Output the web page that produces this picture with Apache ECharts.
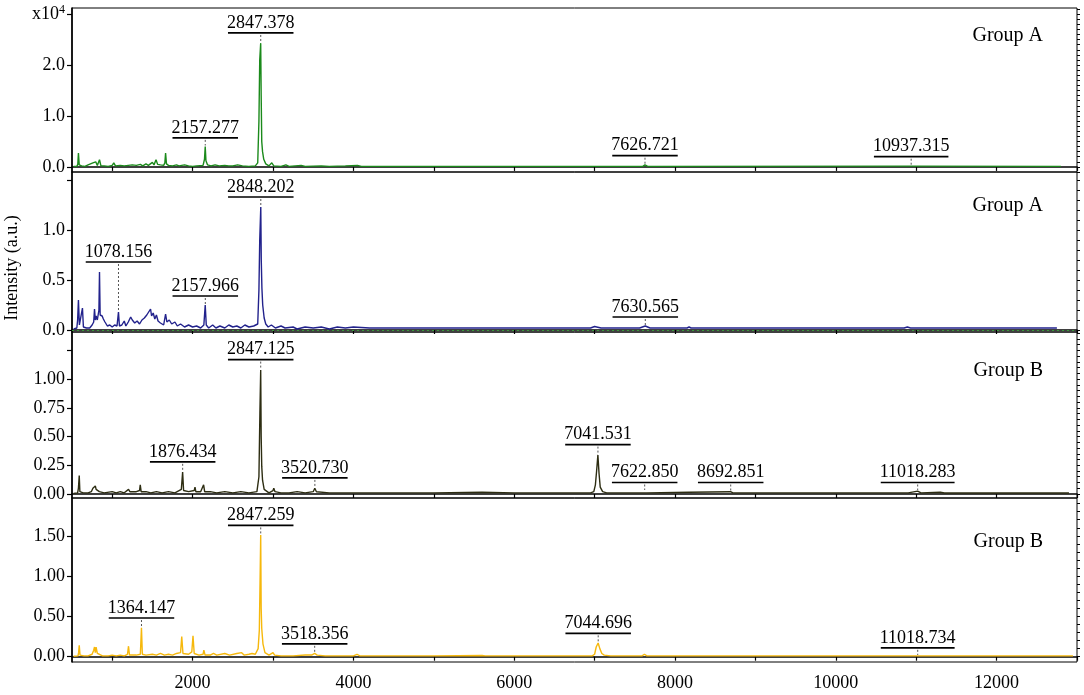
<!DOCTYPE html>
<html>
<head>
<meta charset="utf-8">
<title>MALDI-TOF spectra</title>
<script src="https://cdn.jsdelivr.net/npm/echarts@6/dist/echarts.min.js"></script>
<style>
  html, body { margin: 0; padding: 0; background: #fff; }
  #chart { width: 1084px; height: 695px; }
</style>
</head>
<body>
<div id="chart"></div>
<script>
// spectra, [m/z, intensity] (panel 1 in x10^4)
const specA1 = [[520,0.01],[560,0.01],[572,0.05],[580,0.27],[590,0.04],[620,0.02],[660,0.01],[700,0.04],[720,0.02],[760,0.08],[780,0.05],[795,0.1],[815,0.03],[842,0.14],[860,0.02],[900,0.02],[950,0.01],[1000,0.03],[1020,0.08],[1040,0.02],[1100,0.03],[1150,0.02],[1200,0.03],[1250,0.04],[1300,0.03],[1350,0.05],[1380,0.02],[1420,0.06],[1450,0.03],[1500,0.09],[1520,0.04],[1545,0.14],[1565,0.05],[1600,0.04],[1640,0.03],[1655,0.08],[1664,0.27],[1675,0.06],[1700,0.03],[1750,0.02],[1800,0.04],[1830,0.02],[1900,0.04],[1950,0.02],[2000,0.01],[2050,0.02],[2130,0.03],[2148,0.15],[2157,0.40],[2166,0.12],[2185,0.04],[2230,0.02],[2280,0.04],[2330,0.02],[2400,0.03],[2450,0.02],[2500,0.02],[2560,0.04],[2620,0.02],[2700,0.01],[2780,0.02],[2810,0.08],[2825,0.9],[2835,2.1],[2847,2.43],[2853,1.4],[2860,0.5],[2870,0.3],[2885,0.15],[2910,0.06],[2950,0.02],[2985,0.08],[3010,0.02],[3100,0.01],[3160,0.04],[3200,0.01],[3350,0.03],[3400,0.01],[3600,0.02],[3700,0.01],[3900,0.02],[4050,0.03],[4100,0.01],[5000,0.01],[5500,0.01],[6980,0.01],[7000,0.025],[7030,0.01],[7600,0.01],[7626,0.04],[7660,0.01],[10937,0.015],[12800,0.01]];

const specA2 = [[520,0.01],[560,0.02],[570,0.1],[580,0.30],[592,0.05],[615,0.04],[630,0.22],[642,0.03],[680,0.02],[720,0.02],[750,0.05],[770,0.08],[780,0.21],[790,0.1],[800,0.14],[815,0.1],[825,0.12],[835,0.2],[842,0.58],[850,0.15],[860,0.13],[875,0.14],[890,0.11],[910,0.08],[940,0.04],[970,0.05],[1000,0.03],[1030,0.05],[1060,0.04],[1078,0.18],[1090,0.04],[1120,0.05],[1150,0.09],[1170,0.04],[1200,0.08],[1230,0.13],[1250,0.1],[1280,0.07],[1310,0.09],[1340,0.06],[1370,0.1],[1400,0.12],[1430,0.15],[1450,0.13],[1477,0.21],[1490,0.14],[1510,0.17],[1530,0.11],[1550,0.15],[1570,0.09],[1600,0.07],[1640,0.05],[1664,0.16],[1680,0.08],[1710,0.1],[1740,0.06],[1780,0.08],[1810,0.04],[1850,0.06],[1900,0.03],[1950,0.05],[2000,0.03],[2050,0.04],[2100,0.02],[2140,0.05],[2157,0.25],[2170,0.05],[2200,0.02],[2250,0.05],[2290,0.02],[2340,0.04],[2400,0.02],[2450,0.05],[2500,0.03],[2550,0.04],[2600,0.02],[2650,0.05],[2700,0.03],[2760,0.04],[2810,0.06],[2825,0.4],[2835,0.9],[2848,1.23],[2854,0.7],[2862,0.42],[2872,0.25],[2890,0.12],[2910,0.06],[2940,0.03],[2980,0.05],[3030,0.02],[3100,0.04],[3150,0.02],[3250,0.03],[3300,0.01],[3400,0.03],[3500,0.02],[3600,0.03],[3700,0.01],[3800,0.03],[3900,0.02],[4000,0.03],[4200,0.02],[4400,0.02],[4700,0.02],[5000,0.02],[5500,0.02],[6000,0.02],[6500,0.02],[6950,0.02],[7000,0.035],[7080,0.02],[7560,0.02],[7630,0.04],[7690,0.02],[8150,0.02],[8175,0.03],[8200,0.02],[9000,0.02],[10000,0.02],[10850,0.02],[10890,0.03],[10930,0.02],[12000,0.02],[12750,0.02]];

const specB1 = [[520,0.005],[570,0.01],[580,0.05],[590,0.16],[598,0.02],[640,0.01],[700,0.01],[740,0.02],[760,0.05],[775,0.06],[790,0.07],[800,0.04],[815,0.05],[840,0.02],[900,0.01],[1000,0.02],[1050,0.01],[1100,0.02],[1150,0.01],[1203,0.04],[1220,0.02],[1300,0.02],[1340,0.03],[1349,0.08],[1360,0.02],[1420,0.02],[1480,0.01],[1550,0.02],[1620,0.01],[1700,0.02],[1780,0.01],[1860,0.04],[1876,0.19],[1888,0.03],[1950,0.02],[2020,0.03],[2030,0.06],[2040,0.02],[2100,0.02],[2137,0.08],[2150,0.02],[2220,0.02],[2300,0.01],[2400,0.02],[2500,0.01],[2600,0.02],[2700,0.01],[2800,0.02],[2825,0.15],[2837,0.7],[2847,1.08],[2853,0.5],[2860,0.24],[2870,0.12],[2890,0.04],[2950,0.01],[3000,0.03],[3010,0.05],[3025,0.02],[3100,0.01],[3200,0.01],[3300,0.02],[3400,0.01],[3500,0.02],[3520,0.05],[3540,0.02],[3700,0.01],[3900,0.01],[4100,0.01],[4500,0.01],[5000,0.01],[5600,0.015],[6000,0.01],[6500,0.01],[6950,0.01],[6990,0.02],[7010,0.08],[7025,0.2],[7041,0.34],[7055,0.18],[7070,0.06],[7100,0.02],[7150,0.01],[7600,0.01],[7622,0.025],[7650,0.01],[8175,0.015],[8692,0.02],[8720,0.01],[10900,0.01],[11018,0.025],[11060,0.01],[11300,0.015],[11350,0.008],[12900,0.008]];

const specB2 = [[520,0.005],[575,0.01],[582,0.05],[590,0.14],[600,0.02],[650,0.01],[700,0.01],[750,0.03],[770,0.08],[780,0.12],[790,0.05],[800,0.12],[815,0.04],[840,0.03],[880,0.01],[950,0.01],[1000,0.02],[1050,0.01],[1100,0.02],[1150,0.01],[1190,0.03],[1203,0.13],[1215,0.02],[1300,0.02],[1350,0.03],[1364,0.36],[1375,0.03],[1420,0.02],[1500,0.03],[1550,0.02],[1600,0.04],[1650,0.02],[1700,0.03],[1750,0.02],[1800,0.04],[1850,0.05],[1865,0.25],[1880,0.04],[1950,0.03],[1990,0.06],[2005,0.26],[2020,0.04],[2080,0.02],[2130,0.03],[2140,0.08],[2155,0.02],[2220,0.02],[2260,0.04],[2300,0.02],[2400,0.04],[2460,0.02],[2550,0.04],[2610,0.05],[2640,0.02],[2700,0.03],[2740,0.04],[2780,0.03],[2815,0.1],[2830,0.33],[2840,1.0],[2847,1.51],[2853,0.6],[2860,0.35],[2875,0.16],[2900,0.05],[2950,0.02],[3000,0.05],[3020,0.02],[3100,0.01],[3250,0.01],[3400,0.02],[3480,0.02],[3518,0.04],[3550,0.02],[3650,0.01],[3800,0.01],[4000,0.01],[4045,0.03],[4080,0.01],[4500,0.01],[5000,0.01],[5600,0.015],[5640,0.01],[6000,0.01],[6500,0.01],[6970,0.01],[7000,0.03],[7020,0.12],[7044,0.17],[7065,0.1],[7090,0.04],[7120,0.02],[7200,0.01],[7590,0.01],[7620,0.03],[7650,0.01],[9000,0.01],[11018,0.01],[12950,0.01]];

// labelled peaks: m/z, peak top, level of the label bar
const peakMzA1 = [2157.277, 2847.378, 7626.721, 10937.315];
const peakIntA1 = [0.40, 2.43, 0.04, 0.015];
const barLvlA1 = [0.57, 2.63, 0.22, 0.20];

const peakMzA2 = [1078.156, 2157.966, 2848.202, 7630.565];
const peakIntA2 = [0.18, 0.25, 1.23, 0.04];
const barLvlA2 = [0.68, 0.34, 1.33, 0.13];

const peakMzB1 = [1876.434, 2847.125, 3520.730, 7041.531, 7622.850, 8692.851, 11018.283];
const peakIntB1 = [0.19, 1.08, 0.05, 0.34, 0.025, 0.02, 0.025];
const barLvlB1 = [0.28, 1.17, 0.14, 0.43, 0.10, 0.10, 0.10];

const peakMzB2 = [1364.147, 2847.259, 3518.356, 7044.696, 11018.734];
const peakIntB2 = [0.36, 1.51, 0.04, 0.17, 0.01];
const barLvlB2 = [0.48, 1.63, 0.16, 0.29, 0.11];

// axes
const xTicks = [1000, 2000, 3000, 4000, 5000, 6000, 7000, 8000, 9000, 10000, 11000, 12000, 13000];
const xLabels = [2000, 4000, 6000, 8000, 10000, 12000];
const yMajor = [[0, 1, 2, 3], [0, 0.5, 1, 1.5], [0, 0.25, 0.5, 0.75, 1, 1.25], [0, 0.5, 1, 1.5]];
const yLabels = [[0, 1, 2, 3], [0, 0.5, 1], [0, 0.25, 0.5, 0.75, 1], [0, 0.5, 1, 1.5]];
const yMinorStep = [0.1, 0.1, 0.05, 0.1];
const yRange = [[-0.1, 3.12], [-0.02, 1.58], [-0.035, 1.41], [-0.066, 1.97]];
const groupNames = ['Group A', 'Group A', 'Group B', 'Group B'];

const SERIF = '"Liberation Serif", "Times New Roman", serif';
const colors = ['#1b8a1b', '#22228c', '#2d2d12', '#f6b80c'];
const gridTop = [8, 172, 332, 498];
const gridH = [164, 160, 166, 164];
const groupTop = [26, 196, 361, 532];

const spectra = [specA1, specA2, specB1, specB2];
const peaks = [
  [peakMzA1, peakIntA1, barLvlA1],
  [peakMzA2, peakIntA2, barLvlA2],
  [peakMzB1, peakIntB1, barLvlB1],
  [peakMzB2, peakIntB2, barLvlB2]
];

var ctx = document.createElement('canvas').getContext('2d');
ctx.font = '18px ' + SERIF;
function textW(t) { return ctx.measureText(t).width; }

function minorTicks(i) {
  var out = [];
  var step = yMinorStep[i];
  var n0 = Math.ceil(yRange[i][0] / step - 1e-9);
  var n1 = Math.floor(yRange[i][1] / step + 1e-9);
  for (var n = n0; n <= n1; n++) out.push(+(n * step).toFixed(3));
  return out;
}

function annotRender(labels) {
  return function (params, api) {
    var top = api.coord([api.value(0), api.value(1)]);
    var bar = api.coord([api.value(0), api.value(2)]);
    var text = labels[params.dataIndex];
    var w = textW(text) - 2;
    return {
      type: 'group',
      children: [
        { type: 'line', shape: { x1: top[0], y1: bar[1] + 2, x2: top[0], y2: top[1] - 1 },
          style: { stroke: '#555', lineWidth: 1, lineDash: [2, 2] } },
        { type: 'line', shape: { x1: top[0] - w / 2, y1: bar[1], x2: top[0] + w / 2, y2: bar[1] },
          style: { stroke: '#000', lineWidth: 1.7 } },
        { type: 'text', x: top[0], y: bar[1] - 1,
          style: { text: text, font: '18px ' + SERIF, fill: '#000', align: 'center', verticalAlign: 'bottom' } }
      ]
    };
  };
}

var grids = [], xAxes = [], yAxes = [], series = [], graphics = [];
for (var i = 0; i < 4; i++) {
  grids.push({
    left: 72, right: 7, top: gridTop[i], height: gridH[i],
    show: true, borderColor: '#000', borderWidth: 1
  });
  xAxes.push({
    type: 'value', gridIndex: i, min: 500, max: 13000,
    axisLine: { lineStyle: { color: '#000', width: 1.6 } },
    axisTick: { customValues: xTicks, length: 4, lineStyle: { color: '#000', width: 1.2 } },
    axisLabel: {
      show: i === 3, customValues: xLabels, margin: 12, color: '#000', fontSize: 18, fontFamily: SERIF,
      formatter: function (v) { return String(v); }
    },
    splitLine: { show: false }
  });
  var dec = i < 2 ? 1 : 2;
  (function (dec, i) {
    yAxes.push({
      type: 'value', gridIndex: i, min: yRange[i][0], max: yRange[i][1],
      axisLine: { show: true, lineStyle: { color: '#000', width: 1.6 } },
      axisTick: { customValues: yMajor[i], length: 5, lineStyle: { color: '#000', width: 1.2 } },
      axisLabel: {
        customValues: yLabels[i], margin: 7, color: '#000', fontSize: 18, fontFamily: SERIF,
        formatter: function (v) {
          if (i === 0 && v === 3) return '{x|x10}{s|4}';
          return v.toFixed(dec);
        },
        rich: {
          x: { fontSize: 18, fontFamily: SERIF, color: '#000' },
          s: { fontSize: 12, fontFamily: SERIF, color: '#000', padding: [0, 0, 9, 0] }
        }
      },
      splitLine: { show: false }
    });
  })(dec, i);
  yAxes.push({
    type: 'value', gridIndex: i, min: yRange[i][0], max: yRange[i][1],
    axisLine: { show: false },
    axisTick: { customValues: minorTicks(i), length: 3, lineStyle: { color: '#000', width: 1 } },
    axisLabel: { show: false },
    splitLine: { show: false }
  });

  var s = {
    type: 'line', xAxisIndex: i, yAxisIndex: 2 * i, data: spectra[i],
    symbol: 'none', silent: true,
    lineStyle: { color: colors[i], width: 1.4 }
  };
  if (i === 1) {
    s.markLine = {
      silent: true, symbol: 'none', label: { show: false },
      lineStyle: { color: '#3a9a3a', type: [2, 3], width: 1.2 },
      data: [{ yAxis: 0 }]
    };
  }
  series.push(s);

  var pk = peaks[i];
  var labels = pk[0].map(function (m) { return m.toFixed(3); });
  series.push({
    type: 'custom', xAxisIndex: i, yAxisIndex: 2 * i, silent: true, clip: false,
    renderItem: annotRender(labels),
    data: pk[0].map(function (m, k) { return [m, pk[1][k], pk[2][k]]; }),
    z: 5
  });

  graphics.push({
    type: 'text', right: 41, top: groupTop[i],
    style: { text: groupNames[i], font: '20px ' + SERIF, fill: '#000' }
  });
}

graphics.push({
  type: 'text', x: 12, y: 268, rotation: Math.PI / 2,
  style: { text: 'Intensity (a.u.)', font: '18px ' + SERIF, fill: '#000', align: 'center', verticalAlign: 'middle' }
});

var chart = echarts.init(document.getElementById('chart'), null, { renderer: 'canvas' });
chart.setOption({
  animation: false,
  backgroundColor: '#fff',
  grid: grids,
  xAxis: xAxes,
  yAxis: yAxes,
  series: series,
  graphic: graphics
});
</script>
</body>
</html>
